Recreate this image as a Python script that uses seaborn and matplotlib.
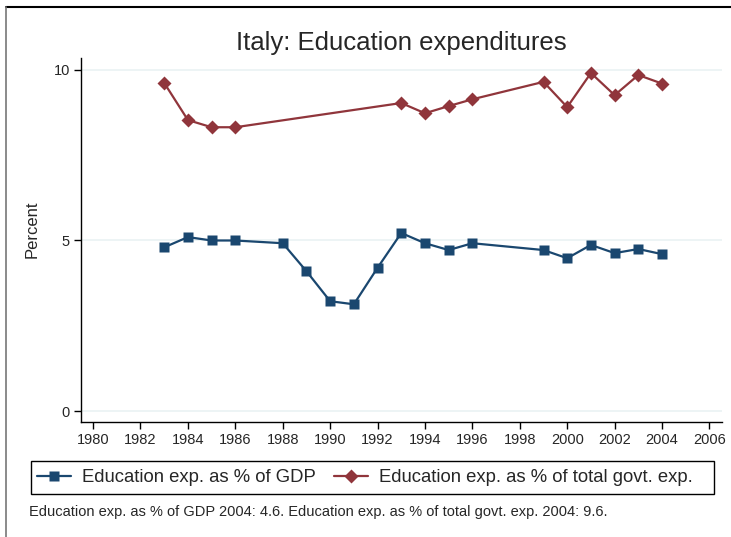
import numpy as np
import matplotlib.pyplot as plt
import seaborn as sns
import pandas as pd
from matplotlib.lines import Line2D
from matplotlib.patches import Rectangle

years_gdp = [1983, 1984, 1985, 1986, 1988, 1989, 1990, 1991, 1992, 1993, 1994,
             1995, 1996, 1999, 2000, 2001, 2002, 2003, 2004]
edu_gdp = [4.8, 5.1, 5.0, 5.0, 4.92, 4.1, 3.22, 3.13, 4.2, 5.22, 4.92,
           4.72, 4.92, 4.72, 4.48, 4.87, 4.63, 4.75, 4.6]

years_govt = [1983, 1984, 1985, 1986, 1993, 1994, 1995, 1996, 1999, 2000,
              2001, 2002, 2003, 2004]
edu_govt = [9.62, 8.53, 8.32, 8.32, 9.03, 8.73, 8.94, 9.14, 9.65, 8.91,
            9.91, 9.26, 9.85, 9.6]

lab_gdp = "Education exp. as % of GDP"
lab_govt = "Education exp. as % of total govt. exp."

df = pd.concat([
    pd.DataFrame({"year": years_gdp, "value": edu_gdp, "series": lab_gdp}),
    pd.DataFrame({"year": years_govt, "value": edu_govt, "series": lab_govt}),
])

sns.set_style("white")
plt.rcParams["font.family"] = ["Liberation Sans", "DejaVu Sans"]

blue = "#1a476f"
red = "#90353b"

fig = plt.figure(figsize=(7.31, 5.37), dpi=100)
ax = fig.add_axes([0.1108, 0.2142, 0.8769, 0.6778])

sns.lineplot(data=df, x="year", y="value", hue="series", style="series",
             palette={lab_gdp: blue, lab_govt: red},
             markers={lab_gdp: "s", lab_govt: "D"}, dashes=False,
             markersize=7, linewidth=1.6, markeredgecolor="none", ax=ax)

ax.set_xlim(1979.49, 2006.53)
ax.set_ylim(-0.32, 10.35)
ax.set_xticks(range(1980, 2007, 2))
ax.set_yticks([0, 5, 10])
ax.grid(axis="y", color="#eaf2f3", linewidth=1.2)
ax.set_axisbelow(True)
for s in ["top", "right"]:
    ax.spines[s].set_visible(False)
for s in ["left", "bottom"]:
    ax.spines[s].set_color("black")
    ax.spines[s].set_linewidth(1)
ax.tick_params(axis="both", direction="out", length=5, width=1, color="black",
               labelsize=10.5, pad=3, left=True, bottom=True)
ax.set_xlabel("")
ax.set_ylabel("Percent", fontsize=12)
ax.yaxis.set_label_coords(-0.065, 0.53)
ax.set_title("Italy: Education expenditures", fontsize=18.5, pad=6)

ax.get_legend().remove()
handles, labels = ax.get_legend_handles_labels()
leg = fig.legend(handles, labels, loc="center left", ncol=2,
                 bbox_to_anchor=(33 / 731, 1 - 477.5 / 537), fontsize=13.3,
                 frameon=False, handlelength=1.85, handletextpad=0.6,
                 columnspacing=1.0, borderpad=0.2, borderaxespad=0)

# legend frame drawn as a plain box
fig.add_artist(Rectangle((31 / 731, 1 - 494 / 537), (714 - 31) / 731, 33 / 537,
                         transform=fig.transFigure, fill=False,
                         edgecolor="black", linewidth=1))

fig.text(29 / 731, 1 - 512 / 537,
         "Education exp. as % of GDP 2004: 4.6. Education exp. as % of total govt. exp. 2004: 9.6.",
         fontsize=10.5, va="center", ha="left")

# outer frame (top and left edges visible)
fig.add_artist(Line2D([6 / 731, 1], [1 - 7 / 537, 1 - 7 / 537],
                      transform=fig.transFigure, color="black", linewidth=1.5))
fig.add_artist(Line2D([6 / 731, 6 / 731], [0, 1 - 7 / 537],
                      transform=fig.transFigure, color="#777777", linewidth=1.2))

fig.savefig("out.png", dpi=100)
